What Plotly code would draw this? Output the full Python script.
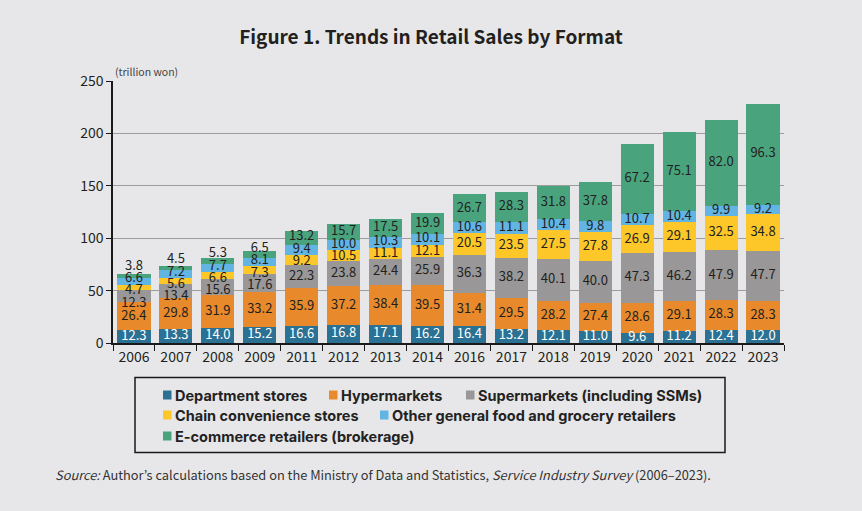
import plotly.graph_objects as go

years = ["2006", "2007", "2008", "2009", "2011", "2012", "2013", "2014",
         "2016", "2017", "2018", "2019", "2020", "2021", "2022", "2023"]

department = [12.3, 13.3, 14.0, 15.2, 16.6, 16.8, 17.1, 16.2, 16.4, 13.2, 12.1, 11.0, 9.6, 11.2, 12.4, 12.0]
hypermarkets = [26.4, 29.8, 31.9, 33.2, 35.9, 37.2, 38.4, 39.5, 31.4, 29.5, 28.2, 27.4, 28.6, 29.1, 28.3, 28.3]
supermarkets = [12.3, 13.4, 15.6, 17.6, 22.3, 23.8, 24.4, 25.9, 36.3, 38.2, 40.1, 40.0, 47.3, 46.2, 47.9, 47.7]
convenience = [4.7, 5.6, 6.6, 7.3, 9.2, 10.5, 11.1, 12.1, 20.5, 23.5, 27.5, 27.8, 26.9, 29.1, 32.5, 34.8]
other_food = [6.6, 7.2, 7.7, 8.1, 9.4, 10.0, 10.3, 10.1, 10.6, 11.1, 10.4, 9.8, 10.7, 10.4, 9.9, 9.2]
ecommerce = [3.8, 4.5, 5.3, 6.5, 13.2, 15.7, 17.5, 19.9, 26.7, 28.3, 31.8, 37.8, 67.2, 75.1, 82.0, 96.3]

series_names = ["Department stores", "Hypermarkets", "Supermarkets (including SSMs)",
                "Chain convenience stores", "Other general food and grocery retailers",
                "E-commerce retailers (brokerage)"]
series_values = [department, hypermarkets, supermarkets, convenience, other_food, ecommerce]
colors = ["#2b7193", "#e88a2c", "#999797", "#fdc72a", "#62b4e2", "#49a47e"]
label_colors = ["#ffffff", "#231f20", "#231f20", "#231f20", "#231f20", "#231f20"]

FONT = "Noto Sans CJK KR"
BG = "#e7e7e9"
W, H = 862, 511
L, R, T, B = 113, 784, 81, 343


def px(x):
    return (x - L) / (R - L)


def py(y):
    return (B - y) / (B - T)


# label positions: segment centres, spread apart where they would collide
MIN_GAP = 11.8


def spread(centers):
    clusters = [[i] for i in range(len(centers))]

    def place(cl):
        m = sum(centers[i] for i in cl) / len(cl)
        n = len(cl)
        return [m + (k - (n - 1) / 2) * MIN_GAP for k in range(n)]

    changed = True
    while changed:
        changed = False
        for j in range(len(clusters) - 1):
            lo = place(clusters[j])
            hi = place(clusters[j + 1])
            if hi[0] - lo[-1] < MIN_GAP - 1e-9:
                clusters[j] = clusters[j] + clusters[j + 1]
                del clusters[j + 1]
                changed = True
                break
    pos = [0.0] * len(centers)
    for cl in clusters:
        for i, p in zip(cl, place(cl)):
            pos[i] = p
    return pos


n_years = len(years)
label_pos = [[0.0] * n_years for _ in series_values]
for t in range(n_years):
    base = 0.0
    centers = []
    for s in series_values:
        centers.append(base + s[t] / 2)
        base += s[t]
    p = spread(centers)
    for k in range(len(series_values)):
        label_pos[k][t] = p[k]

fig = go.Figure()
for name, vals, col in zip(series_names, series_values, colors):
    fig.add_trace(go.Bar(x=years, y=vals, name=name, marker=dict(color=col, line=dict(width=0)),
                         showlegend=False, hoverinfo="skip"))

for k, (vals, lc) in enumerate(zip(series_values, label_colors)):
    fig.add_trace(go.Scatter(x=years, y=label_pos[k], mode="text",
                             text=[f"{v:.1f}" for v in vals],
                             textfont=dict(family=FONT, size=13, color=lc),
                             textposition="middle center", cliponaxis=False,
                             showlegend=False, hoverinfo="skip"))

# manual legend (flow layout, as in the reference)
legend_rows = [[0, 1, 2], [3, 4], [5]]
row_y = [395, 415, 436]
sq_x = [[163, 329, 466], [163, 380], [163]]
shapes = [dict(type="rect", xref="paper", yref="paper",
               x0=px(135), x1=px(725), y0=py(377.5), y1=py(452.5),
               line=dict(color="#1a1a1a", width=1.5), fillcolor="rgba(0,0,0,0)", layer="above")]
annotations = []
for r, items in enumerate(legend_rows):
    for c, idx in enumerate(items):
        x0 = sq_x[r][c]
        yc = row_y[r]
        shapes.append(dict(type="rect", xref="paper", yref="paper",
                           x0=px(x0), x1=px(x0 + 8.5), y0=py(yc + 4.5), y1=py(yc - 4.5),
                           line=dict(width=0), fillcolor=colors[idx]))
        annotations.append(dict(xref="paper", yref="paper", x=px(x0 + 10), y=py(yc),
                                xanchor="left", yanchor="middle", showarrow=False,
                                text=series_names[idx],
                                font=dict(family="Inter", size=14.5, color="#222222", weight="bold")))

annotations.append(dict(xref="paper", yref="paper", x=px(113), y=py(71),
                        xanchor="left", yanchor="middle", showarrow=False,
                        text="(trillion won)", font=dict(family=FONT, size=10.5, color="#444444")))
annotations.append(dict(xref="paper", yref="paper", x=px(53), y=py(474),
                        xanchor="left", yanchor="middle", showarrow=False,
                        text="<i>Source:</i> Author’s calculations based on the Ministry of Data and Statistics, "
                             "<i>Service Industry Survey</i> (2006–2023).",
                        font=dict(family=FONT, size=12.8, color="#333333")))

fig.update_layout(
    width=W, height=H,
    margin=dict(l=L, r=W - R, t=T, b=H - B, pad=0),
    paper_bgcolor=BG, plot_bgcolor=BG,
    barmode="stack", bargap=0.21,
    title=dict(text="<b>Figure 1. Trends in Retail Sales by Format</b>",
               x=0.5, xanchor="center", y=1 - 37 / H, yanchor="middle",
               font=dict(family=FONT, size=19, color="#231f20")),
    xaxis=dict(type="category", categoryorder="array", categoryarray=years,
               range=[-0.5, n_years - 0.5],
               showline=True, linecolor="#1a1a1a", linewidth=1.5,
               ticks="outside", tickson="boundaries", ticklen=6, tickcolor="#1a1a1a", tickwidth=1.2,
               tickfont=dict(family=FONT, size=14, color="#231f20"),
               showgrid=False, zeroline=False, fixedrange=True),
    yaxis=dict(range=[0, 250], dtick=50, tick0=0,
               showline=True, linecolor="#1a1a1a", linewidth=1.5,
               ticks="outside", ticklen=5, tickcolor="#1a1a1a", tickwidth=1.2,
               tickfont=dict(family=FONT, size=14, color="#231f20"),
               showgrid=True, gridcolor="#9c9c9c", gridwidth=1,
               zeroline=False, fixedrange=True),
    shapes=shapes,
    annotations=annotations,
    showlegend=False,
)

fig.write_html("out.html",
               config={"displayModeBar": False, "staticPlot": False},
               post_script="document.body.style.margin='0';document.body.style.background='" + BG + "';")
